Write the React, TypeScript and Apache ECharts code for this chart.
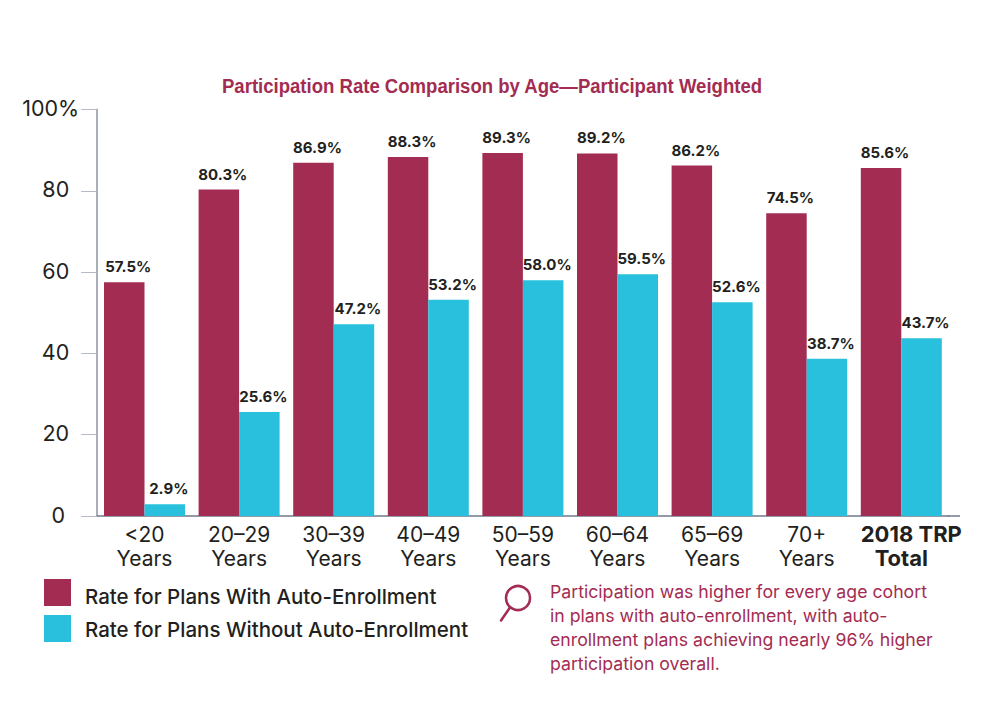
import React, { useEffect, useRef } from "react";
import * as echarts from "echarts";

const categories = ["<20\nYears", "20–29\nYears", "30–39\nYears", "40–49\nYears", "50–59\nYears", "60–64\nYears", "65–69\nYears", "70+\nYears", "2018 TRP\nTotal"];
const withAuto = [57.5, 80.3, 86.9, 88.3, 89.3, 89.2, 86.2, 74.5, 85.6];
const withoutAuto = [2.9, 25.6, 47.2, 53.2, 58.0, 59.5, 52.6, 38.7, 43.7];
const seriesNames = ["Rate for Plans With Auto-Enrollment", "Rate for Plans Without Auto-Enrollment"];
const titleText = "Participation Rate Comparison by Age—Participant Weighted";
const noteLines = [
  "Participation was higher for every age cohort",
  "in plans with auto-enrollment, with auto-",
  "enrollment plans achieving nearly 96% higher",
  "participation overall.",
];

const RED = "#a32c52";
const BLUE = "#29c0dd";
const INK = "#231f20";
const FONT = "Inter";

export default function App() {
  const ref = useRef<HTMLDivElement>(null);
  useEffect(() => {
    const chart = echarts.init(ref.current!, undefined, { renderer: "svg" });
    const label = {
      show: true,
      position: "top" as const,
      distance: 8,
      offset: [4, 0],
      color: INK,
      fontFamily: FONT,
      fontWeight: "bold" as const,
      fontSize: 15,
      formatter: (p: any) => `${Number(p.value).toFixed(1)}%`,
    };
    const axisText = { color: INK, fontFamily: FONT, fontSize: 21.5 };
    const xText = { color: INK, fontFamily: FONT, fontSize: 21 };
    const legendText = { color: INK, fontFamily: FONT, fontWeight: 500, fontSize: 20.5 };
    chart.setOption({
      animation: false,
      backgroundColor: "#ffffff",
      legend: {
        orient: "vertical",
        left: 44,
        top: 579,
        padding: 0,
        itemWidth: 27,
        itemHeight: 27,
        itemGap: 8,
        icon: "rect",
        textStyle: {
          ...legendText,
          rich: {
            first: { ...legendText, padding: [8, 0, 0, 9] },
            second: { ...legendText, padding: [1, 0, 0, 9] },
          },
        },
        formatter: (name: string) => `{${name === seriesNames[0] ? "first" : "second"}|${name}}`,
        data: seriesNames,
      },
      grid: { left: 97.2, right: 1000 - 948.6, top: 109.5, bottom: 717 - 516 },
      xAxis: {
        type: "category",
        data: categories,
        axisLine: { show: true, lineStyle: { color: "#6f7a8c", width: 1.5 } },
        axisTick: { show: false },
        axisLabel: {
          ...xText,
          lineHeight: 24,
          margin: 6,
          interval: 0,
          formatter: (v: string) =>
            v.startsWith("2018") ? v.split("\n").map((s, i) => `{${i === 0 ? "t" : "u"}|${s}}`).join("\n") : v,
          rich: {
            t: { ...xText, fontSize: 22, fontWeight: "bold", lineHeight: 24, padding: [0, 0, 0, 20] },
            u: { ...xText, fontSize: 22, fontWeight: "bold", lineHeight: 24 },
          },
        },
      },
      yAxis: {
        type: "value",
        min: 0,
        max: 100,
        interval: 20,
        splitLine: { show: false },
        axisLine: { show: true, lineStyle: { color: "#a9aebb", width: 2 } },
        axisTick: { show: true, length: 16, lineStyle: { color: "#b4bac4", width: 1 } },
        axisLabel: {
          margin: 18,
          ...axisText,
          formatter: (v: number) => (v === 100 ? "{a|100%}" : v === 0 ? "{c|0}" : `{b|${v}}`),
          rich: {
            a: { ...axisText, padding: [0, 0, 3, 0] },
            b: { ...axisText, padding: [0, 10, 3, 0] },
            c: { ...axisText, padding: [0, 14, 2, 0] },
          },
        },
      },
      series: [
        { name: seriesNames[0], type: "bar", data: withAuto, barWidth: 40.5, barGap: 0, itemStyle: { color: RED }, label },
        { name: seriesNames[1], type: "bar", data: withoutAuto, barWidth: 40.5, barGap: 0, itemStyle: { color: BLUE }, label },
      ],
      graphic: [
        {
          type: "text",
          x: 222,
          y: 86,
          scaleX: 0.928,
          style: { text: titleText, fill: RED, font: "bold 20px 'Liberation Sans'", textVerticalAlign: "middle" },
        },
        { type: "line", shape: { x1: 948, y1: 516, x2: 960, y2: 516 }, style: { stroke: "#6f7a8c", lineWidth: 1.5 } },
        { type: "circle", shape: { cx: 518, cy: 598, r: 12 }, style: { fill: "none", stroke: RED, lineWidth: 2.5 } },
        { type: "line", shape: { x1: 501, y1: 620.5, x2: 510, y2: 607.5 }, style: { stroke: RED, lineWidth: 2.5, lineCap: "round" } },
        ...noteLines.map((t, i) => ({
          type: "text",
          x: 550,
          y: 591 + i * 24,
          style: { text: t, fill: RED, font: `17.7px ${FONT}`, textVerticalAlign: "middle" },
        })),
      ],
    });
    return () => chart.dispose();
  }, []);
  return <div ref={ref} style={{ position: "fixed", left: 0, top: 0, width: 1000, height: 717 }} />;
}
